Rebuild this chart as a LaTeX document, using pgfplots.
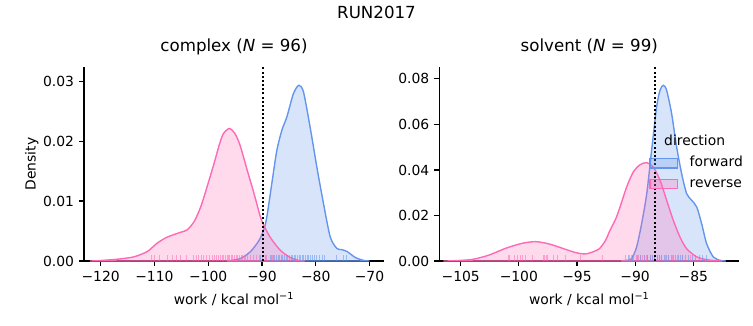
\documentclass[border=0pt]{standalone}
\usepackage{fontspec}
\setmainfont{DejaVu Sans}
\usepackage{pgfplots}
\pgfplotsset{compat=1.18}
\definecolor{fwd}{RGB}{100,149,237}
\definecolor{rev}{RGB}{255,105,180}

\pgfplotstableread{
x y
-96.5 0
-94.06 0.0004
-92.1 0.0016
-90.5 0.0035
-89.6 0.0054
-89.1 0.0073
-88.17 0.0129
-87.24 0.0184
-86.3 0.0218
-85.38 0.0240
-84.15 0.0279
-83.14 0.0293
-82.28 0.0282
-81.04 0.0223
-79.8 0.0157
-78.56 0.0096
-77.3 0.0040
-76.07 0.0021
-75.2 0.0019
-74.2 0.0016
-72.66 0.0006
-71.1 0.0001
-70.0 0
}\cfwd

\pgfplotstableread{
x y
-122.0 0
-120.6 0.00005
-116.9 0.0003
-113.8 0.0007
-111.3 0.0016
-109.46 0.0030
-107.6 0.0040
-105.1 0.0048
-103.9 0.0052
-102.6 0.0066
-101.4 0.0090
-100.2 0.0124
-98.9 0.0163
-98.0 0.0192
-97.2 0.0212
-96.06 0.0221
-95.0 0.0212
-94.07 0.0193
-92.7 0.0150
-91.46 0.0112
-90.35 0.0075
-89.9 0.0064
-88.5 0.0040
-86.6 0.0018
-84.76 0.0006
-83.2 0.0001
-82.0 0
}\crev

\pgfplotstableread{
x y
-91.2 0
-90.7 0.0003
-90.3 0.0010
-89.87 0.0062
-89.44 0.0164
-89.0 0.0296
-88.58 0.0487
-88.15 0.0677
-87.86 0.0750
-87.58 0.0772
-87.29 0.0750
-86.86 0.0647
-86.43 0.0501
-86.0 0.0384
-85.57 0.0296
-85.14 0.0267
-84.7 0.0237
-84.28 0.0164
-83.85 0.0076
-83.28 0.0018
-82.7 0.0003
-82.2 0
}\sfwd

\pgfplotstableread{
x y
-106.5 0
-105.7 0.0001
-104.0 0.0007
-102.57 0.0026
-101.13 0.0056
-99.7 0.0078
-98.55 0.0085
-97.4 0.0075
-96.26 0.0056
-95.11 0.0037
-94.25 0.0031
-93.39 0.0045
-93.0 0.0058
-92.53 0.0092
-92.16 0.0135
-91.67 0.0185
-91.3 0.0237
-90.73 0.0325
-90.16 0.0391
-89.58 0.0423
-89.0 0.0432
-88.44 0.0413
-87.86 0.0355
-87.29 0.0267
-86.72 0.0179
-86.14 0.0105
-85.57 0.0054
-84.7 0.0018
-83.85 0.0006
-83.0 0.0001
-82.5 0
}\srev

\pgfplotsset{
  myaxis/.style={
    scale only axis, width=216pt, height=139.46pt,
    anchor=south west,
    axis lines=left, axis line style={-, line width=0.8pt},
    tick align=outside, major tick length=3.5pt,
    tick style={line width=0.8pt, black},
    scaled ticks=false,
    ymin=0, clip=true,
    xticklabel style={inner sep=0pt, anchor=north, yshift=-3.5pt},
    yticklabel style={inner sep=0pt, anchor=east, xshift=-3.5pt},
    tick label style={font=\fontsize{10}{12}\selectfont},
    label style={font=\fontsize{10}{12}\selectfont},
    xlabel={work / kcal mol\textsuperscript{−1}},
    xlabel style={at={(axis description cs:0.5,0)}, anchor=base, yshift=-31.2pt},
    title style={font=\fontsize{12}{14}\selectfont, at={(axis description cs:0.5,1)}, anchor=base, yshift=5.5pt},
  },
  kde/.style={smooth, tension=0.45, draw=#1, fill=#1, fill opacity=0.25, line width=1pt},
  rug/.style={ycomb, no marks, draw=#1, opacity=0.55, line width=0.7pt, forget plot},
  vline/.style={black, line width=1.4pt, dash pattern=on 1.4pt off 1.6pt, forget plot},
}

\begin{document}
\begin{tikzpicture}
\path[use as bounding box] (0,0) rectangle (542.16pt,234pt);
\node[font=\fontsize{12}{14}\selectfont, anchor=base] at (271.08pt,220.8pt) {RUN2017};

\begin{axis}[myaxis, at={(60.48pt,46.08pt)},
  xmin=-123.1, xmax=-67.3, ymax=0.0323,
  xtick={-120,-110,-100,-90,-80,-70},
  xticklabels={−120,−110,−100,−90,−80,−70},
  ytick={0,0.01,0.02,0.03},
  yticklabels={0.00,0.01,0.02,0.03},
  ylabel={Density},
  ylabel style={at={(axis description cs:-0.174,0.5)}, anchor=center},
  title={complex (\textit{N} = 96)},
]
\addplot[kde=fwd] table {\cfwd} \closedcycle;
\addplot[kde=rev] table {\crev} \closedcycle;
\addplot[rug=rev] coordinates {
(-110.5,0.001)(-109.9,0.001)(-109.0,0.001)(-107.6,0.001)(-106.6,0.001)(-105.9,0.001)(-105.1,0.001)(-104.1,0.001)(-102.8,0.001)(-102.2,0.001)(-101.8,0.001)(-101.3,0.001)(-100.8,0.001)(-100.3,0.001)(-99.7,0.001)(-99.2,0.001)(-98.8,0.001)(-98.4,0.001)(-98.0,0.001)(-97.7,0.001)(-97.4,0.001)(-97.1,0.001)(-96.8,0.001)(-96.5,0.001)(-96.2,0.001)(-96.0,0.001)(-95.7,0.001)(-95.4,0.001)(-95.1,0.001)(-94.8,0.001)(-94.5,0.001)(-94.2,0.001)(-93.9,0.001)(-93.6,0.001)(-93.3,0.001)(-93.0,0.001)(-92.6,0.001)(-92.2,0.001)(-91.6,0.001)(-91.0,0.001)(-90.5,0.001)(-89.9,0.001)(-89.2,0.001)(-88.0,0.001)};
\addplot[rug=fwd] coordinates {
(-90.3,0.001)(-89.4,0.001)(-88.5,0.001)(-88.2,0.001)(-87.9,0.001)(-87.6,0.001)(-87.3,0.001)(-87.0,0.001)(-86.7,0.001)(-86.4,0.001)(-86.1,0.001)(-85.8,0.001)(-85.5,0.001)(-85.2,0.001)(-84.9,0.001)(-84.6,0.001)(-84.3,0.001)(-84.0,0.001)(-83.7,0.001)(-83.4,0.001)(-83.1,0.001)(-82.8,0.001)(-82.5,0.001)(-82.2,0.001)(-81.9,0.001)(-81.6,0.001)(-81.3,0.001)(-81.0,0.001)(-80.6,0.001)(-80.2,0.001)(-79.8,0.001)(-79.3,0.001)(-78.8,0.001)(-78.3,0.001)(-76.1,0.001)(-74.8,0.001)(-74.2,0.001)};
\addplot[vline] coordinates {(-89.8,0) (-89.8,0.0323)};
\end{axis}

\begin{axis}[myaxis, at={(316.3pt,46.08pt)},
  xmin=-106.84, xmax=-81.04, ymax=0.0851,
  xtick={-105,-100,-95,-90,-85},
  xticklabels={−105,−100,−95,−90,−85},
  ytick={0,0.02,0.04,0.06,0.08},
  yticklabels={0.00,0.02,0.04,0.06,0.08},
  title={solvent (\textit{N} = 99)},
  legend cell align=left,
  legend image code/.code={\draw[#1] (0pt,-3.35pt) rectangle (19.7pt,3.35pt);},
  legend style={draw=none, fill=none, at={(axis description cs:0.70,0.54)}, anchor=north west,
    inner sep=0pt, outer sep=0pt, font=\fontsize{10}{12}\selectfont, row sep=4.8pt,
    nodes={inner sep=0pt, text height=7.5pt, text depth=2.5pt},
    /tikz/every odd column/.append style={column sep=8.35pt}},
]
\addplot[kde=fwd] table {\sfwd} \closedcycle;
\addlegendentry{forward}
\addplot[kde=rev] table {\srev} \closedcycle;
\addlegendentry{reverse}
\addplot[rug=rev] coordinates {
(-100.9,0.0026)(-100.8,0.0026)(-100.4,0.0026)(-100.1,0.0026)(-99.9,0.0026)(-99.7,0.0026)(-99.4,0.0026)(-98.8,0.0026)(-97.9,0.0026)(-97.8,0.0026)(-97.6,0.0026)(-97.5,0.0026)(-97.0,0.0026)(-96.7,0.0026)(-96.0,0.0026)(-94.7,0.0026)(-92.8,0.0026)(-90.8,0.0026)(-90.5,0.0026)(-90.3,0.0026)(-90.1,0.0026)(-89.9,0.0026)(-89.7,0.0026)(-89.5,0.0026)(-89.4,0.0026)(-89.2,0.0026)(-89.0,0.0026)(-88.9,0.0026)(-88.7,0.0026)(-88.5,0.0026)(-88.3,0.0026)(-88.1,0.0026)(-87.9,0.0026)(-87.7,0.0026)(-87.4,0.0026)(-87.1,0.0026)(-86.8,0.0026)(-86.4,0.0026)(-85.9,0.0026)(-85.2,0.0026)};
\addplot[rug=fwd] coordinates {
(-90.6,0.0026)(-90.2,0.0026)(-89.8,0.0026)(-89.5,0.0026)(-89.2,0.0026)(-88.9,0.0026)(-88.7,0.0026)(-88.5,0.0026)(-88.3,0.0026)(-88.1,0.0026)(-87.9,0.0026)(-87.7,0.0026)(-87.5,0.0026)(-87.3,0.0026)(-87.1,0.0026)(-86.9,0.0026)(-86.7,0.0026)(-86.5,0.0026)(-86.3,0.0026)(-86.1,0.0026)(-85.9,0.0026)(-85.7,0.0026)(-85.4,0.0026)(-85.1,0.0026)(-84.8,0.0026)(-84.5,0.0026)(-84.2,0.0026)(-83.9,0.0026)};
\addplot[vline] coordinates {(-88.31,0) (-88.31,0.0851)};
\node[font=\fontsize{10}{12}\selectfont, anchor=base] at (axis description cs:0.851,0.594) {direction};
\end{axis}
\end{tikzpicture}
\end{document}
